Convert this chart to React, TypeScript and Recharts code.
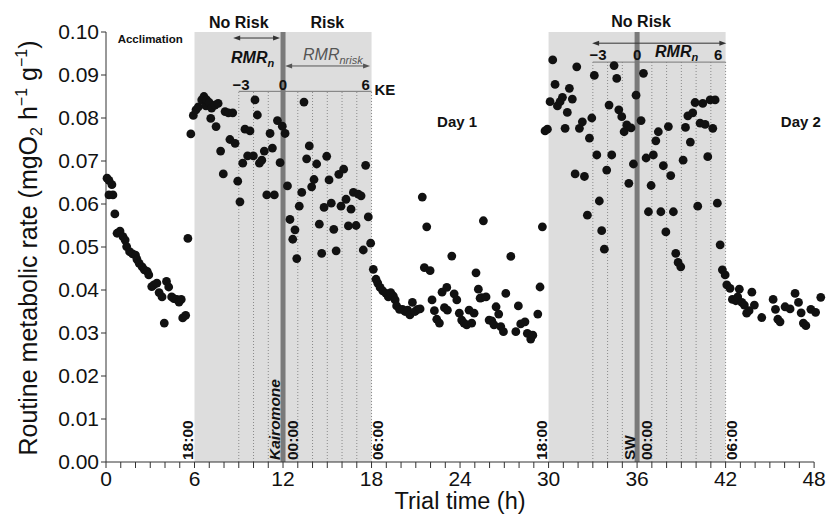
import { ScatterChart, Scatter, XAxis, YAxis, ReferenceArea, ReferenceLine } from "recharts";

// ─── Data (hours since start, RMR in mgO2 h-1 g-1) ─────────────────────────────

const acclimationHours = [
  0.07, 0.2, 0.4, 0.2, 0.47, 0.6, 0.75, 0.95, 1.15, 1.3, 1.4, 1.6, 1.8, 2.0, 2.1, 2.25, 2.45, 2.6,
  2.8, 2.9, 3.1, 3.25, 3.45, 3.6, 3.8, 3.95, 4.1, 4.25, 4.45, 4.6, 4.8, 4.95, 5.1, 5.2, 5.4, 5.55,
  5.75,
];
const acclimationRate = [
  0.066, 0.0655, 0.0645, 0.0621, 0.0621, 0.0577, 0.0532, 0.0537, 0.0524, 0.0516, 0.0501, 0.0489,
  0.0484, 0.0481, 0.0471, 0.0462, 0.0454, 0.0447, 0.0443, 0.0435, 0.0408, 0.0412, 0.0416, 0.0394,
  0.0384, 0.0323, 0.042, 0.0407, 0.0384, 0.038, 0.0378, 0.0372, 0.0378, 0.0335, 0.0341, 0.052,
  0.0763,
];

const kairomoneHours = [
  5.92, 6.1, 6.26, 6.49, 6.64, 6.78, 6.82, 7.0, 7.1, 7.16, 7.39, 7.46, 7.6, 7.77, 7.95, 8.07, 8.3,
  8.4, 8.59, 8.75, 8.93, 9.08, 9.27, 9.42, 9.6, 9.76, 9.99, 10.1, 10.26, 10.4, 10.56, 10.73, 10.9,
  11.12, 11.28, 11.41, 11.62, 11.8, 11.95, 12.14, 12.3, 12.47, 12.66, 12.81, 12.93, 13.1, 13.27,
  13.42, 13.6, 13.78, 13.94, 14.1, 14.28, 14.46, 14.62, 14.78, 14.96, 15.12, 15.27, 15.44, 15.6,
  15.78, 15.93, 16.11, 16.27, 16.43, 16.61, 16.77, 16.95, 17.1, 17.29, 17.44, 17.6, 17.78, 17.94,
];
const kairomoneRate = [
  0.0806, 0.0819, 0.0826, 0.0842, 0.085, 0.0828, 0.0842, 0.0836, 0.0799, 0.0823, 0.083, 0.078,
  0.0834, 0.0723, 0.067, 0.0815, 0.0812, 0.075, 0.0812, 0.0741, 0.0653, 0.0605, 0.0695, 0.0774,
  0.0712, 0.077, 0.0712, 0.0842, 0.0807, 0.0695, 0.0702, 0.0723, 0.0621, 0.0764, 0.073, 0.0621,
  0.0794, 0.0696, 0.0781, 0.0764, 0.0642, 0.0564, 0.0518, 0.054, 0.0473, 0.0595, 0.0627, 0.0837,
  0.0705, 0.0735, 0.064, 0.0657, 0.0693, 0.0553, 0.0485, 0.0592, 0.0711, 0.0656, 0.0602, 0.0541,
  0.0491, 0.0669, 0.0595, 0.0681, 0.0611, 0.0549, 0.0588, 0.0627, 0.055, 0.0623, 0.0619, 0.0493,
  0.069, 0.057, 0.0509,
];

const day1Hours = [
  18.12, 18.3, 18.42, 18.58, 18.76, 18.98, 19.14, 19.3, 19.48, 19.6, 19.7, 19.89, 20.1, 20.27,
  20.45, 20.6, 20.77, 20.95, 21.13, 21.29, 21.44, 21.58, 21.74, 21.97, 22.1, 22.26, 22.42, 22.6,
  22.78, 22.94, 23.1, 23.14, 23.44, 23.6, 23.78, 23.95, 24.11, 24.27, 24.45, 24.61, 24.79, 24.95,
  25.08, 25.24, 25.36, 25.47, 25.58, 25.76, 25.97, 26.15, 26.3, 26.44, 26.62, 26.76, 26.94, 27.1,
  27.44, 27.78, 27.95, 28.11, 28.4, 28.56, 28.79, 28.93, 29.27, 29.42, 29.58, 29.76, 29.92,
];
const day1Rate = [
  0.0448, 0.0425, 0.0416, 0.0406, 0.0398, 0.0392, 0.0384, 0.0394, 0.0386, 0.0377, 0.0363, 0.0355,
  0.0355, 0.035, 0.0353, 0.0342, 0.0371, 0.035, 0.0355, 0.0356, 0.0616, 0.0452, 0.0547, 0.0445,
  0.0377, 0.0352, 0.0332, 0.0323, 0.0395, 0.0359, 0.0406, 0.0353, 0.0479, 0.0391, 0.0377, 0.0346,
  0.033, 0.0323, 0.0319, 0.0353, 0.0323, 0.0346, 0.044, 0.0402, 0.0381, 0.0382, 0.0561, 0.0384,
  0.033, 0.0328, 0.0319, 0.0361, 0.0344, 0.0315, 0.0303, 0.0392, 0.0478, 0.0303, 0.0363, 0.0321,
  0.0326, 0.0299, 0.0286, 0.0295, 0.0344, 0.0407, 0.0547, 0.077, 0.0774,
];

const seawaterHours = [
  30.1, 30.28, 30.44, 30.6, 30.78, 30.94, 31.12, 31.27, 31.41, 31.61, 31.8, 31.91, 32.09, 32.29,
  32.43, 32.63, 32.77, 32.93, 33.1, 33.27, 33.44, 33.6, 33.78, 33.94, 34.1, 34.28, 34.44, 34.62,
  34.76, 34.96, 35.12, 35.3, 35.44, 35.59, 35.75, 35.93, 36.27, 36.43, 36.61, 36.77, 36.95, 37.1,
  37.27, 37.44, 37.61, 37.78, 37.95, 38.12, 38.28, 38.46, 38.62, 38.78, 38.96, 39.12, 39.28, 39.44,
  39.61, 39.77, 39.93, 40.11, 40.27, 40.45, 40.61, 40.79, 40.95, 41.13, 41.29, 41.44, 41.63, 41.78,
  41.97,
];
const seawaterRate = [
  0.0838, 0.0935, 0.0878, 0.0828, 0.0838, 0.0848, 0.0776, 0.0813, 0.0869, 0.0844, 0.067, 0.0919,
  0.0776, 0.0791, 0.0664, 0.0574, 0.0753, 0.08, 0.0899, 0.0714, 0.0607, 0.0538, 0.0495, 0.0679,
  0.083, 0.0714, 0.0922, 0.0892, 0.0819, 0.0803, 0.0768, 0.0784, 0.0648, 0.0777, 0.0693, 0.0853,
  0.0794, 0.0904, 0.0707, 0.0582, 0.0643, 0.0714, 0.0747, 0.0768, 0.0582, 0.0689, 0.0535, 0.078,
  0.0666, 0.0582, 0.0485, 0.0464, 0.0454, 0.0702, 0.0778, 0.0805, 0.0744, 0.0812, 0.0836, 0.0595,
  0.0788, 0.0834, 0.0785, 0.071, 0.0842, 0.0776, 0.0842, 0.0602, 0.0505, 0.0447, 0.0435,
];

const day2Hours = [
  42.08, 42.3, 42.46, 42.69, 42.82, 42.93, 43.1, 43.27, 43.43, 43.59, 43.78, 43.95, 44.45, 45.22,
  45.38, 45.54, 45.69, 46.03, 46.37, 46.71, 46.94, 47.12, 47.27, 47.44, 47.78, 48.1, 48.45,
];
const day2Rate = [
  0.0412, 0.0404, 0.0378, 0.0375, 0.0384, 0.0402, 0.0371, 0.0365, 0.0346, 0.0352, 0.0395, 0.0365,
  0.0336, 0.0378, 0.0355, 0.0332, 0.0326, 0.0361, 0.0356, 0.0392, 0.0371, 0.0347, 0.0323, 0.0317,
  0.0355, 0.0348, 0.0383,
];

const majorHours = [0, 6, 12, 18, 24, 30, 36, 42, 48];
const rateTicks = [0, 0.01, 0.02, 0.03, 0.04, 0.05, 0.06, 0.07, 0.08, 0.09, 0.1];
const kairomoneGuides = [9, 10, 11, 13, 14, 15, 16, 17, 18];
const seawaterGuides = [33, 34, 35, 37, 38, 39, 40, 41, 42];

// ─── Layout ───────────────────────────────────────────────────────────────────

const W = 834;
const H = 515;
const LEFT = 106;
const TOP = 32;
const RIGHT_GAP = 12.5;
const XAXIS_H = 53;
const X_MAX = 48.5;
const Y_MAX = 0.1;
const PLOT_W = W - LEFT - RIGHT_GAP;
const PLOT_H = H - TOP - XAXIS_H;
const sx = (h: number) => LEFT + (h / X_MAX) * PLOT_W;
const sy = (v: number) => TOP + PLOT_H - (v / Y_MAX) * PLOT_H;

const FONT = "'Liberation Sans', Arial, Helvetica, sans-serif";
const INK = "#111";
const KE_TOP = 0.0862;
const SW_TOP = 0.093;

const minorTicks = Array.from({ length: 49 }, (_, i) => i);
const toPoints = (hours: number[], rate: number[]) => hours.map((t, i) => ({ t, rmr: rate[i] }));

const phases = [
  toPoints(acclimationHours, acclimationRate),
  toPoints(kairomoneHours, kairomoneRate),
  toPoints(day1Hours, day1Rate),
  toPoints(seawaterHours, seawaterRate),
  toPoints(day2Hours, day2Rate),
];

const Dot = (props: any) => <circle cx={props.cx} cy={props.cy} r={4.4} fill={INK} />;

function Arrow({ from, to, y, color }: { from: number; to: number; y: number; color: string }) {
  const x1 = sx(from);
  const x2 = sx(to);
  const py = sy(y);
  return (
    <g>
      <line x1={x1 + 5} x2={x2 - 5} y1={py} y2={py} stroke={color} strokeWidth={1} />
      <polygon points={`${x1},${py} ${x1 + 7},${py - 2.5} ${x1 + 7},${py + 2.5}`} fill={color} />
      <polygon points={`${x2},${py} ${x2 - 7},${py - 2.5} ${x2 - 7},${py + 2.5}`} fill={color} />
    </g>
  );
}

function VText({ x, text, italic }: { x: number; text: string; italic?: boolean }) {
  const y = PLOT_H + TOP - 2;
  return (
    <text
      x={x}
      y={y}
      transform={`rotate(-90 ${x} ${y})`}
      fontSize={15.5}
      fontWeight="bold"
      fontStyle={italic ? "italic" : "normal"}
      fill={INK}
    >
      {text}
    </text>
  );
}

function Overlay() {
  return (
    <svg
      width={W}
      height={H}
      style={{ position: "absolute", left: 0, top: 0, pointerEvents: "none" }}
      fontFamily={FONT}
    >
      {/* y axis title */}
      <text
        x={37}
        y={248}
        transform="rotate(-90 37 248)"
        textAnchor="middle"
        fontSize={25}
        fill={INK}
      >
        Routine metabolic rate (mgO
        <tspan fontSize={16} dy={5}>2</tspan>
        <tspan dy={-5}> h</tspan>
        <tspan fontSize={16} dy={-10}>−1</tspan>
        <tspan dy={10}> g</tspan>
        <tspan fontSize={16} dy={-10}>−1</tspan>
        <tspan dy={10}>)</tspan>
      </text>
      <text x={sx(24)} y={509} textAnchor="middle" fontSize={23.5} fill={INK}>
        Trial time (h)
      </text>

      {/* phase headers */}
      <text x={sx(3)} y={43} textAnchor="middle" fontSize={11.5} fontWeight="bold" fill={INK}>
        Acclimation
      </text>
      <text x={sx(9)} y={28} textAnchor="middle" fontSize={16} fontWeight="bold" fill={INK}>
        No Risk
      </text>
      <text x={sx(15)} y={28} textAnchor="middle" fontSize={16} fontWeight="bold" fill={INK}>
        Risk
      </text>
      <text x={sx(36) + 4} y={27} textAnchor="middle" fontSize={16} fontWeight="bold" fill={INK}>
        No Risk
      </text>

      <Arrow from={8.62} to={11.8} y={0.0986} color="#333" />
      <Arrow from={12.14} to={17.9} y={0.0921} color="#555" />
      <Arrow from={32.95} to={42.05} y={0.0974} color="#333" />

      <text x={231} y={63} fontSize={16} fontWeight="bold" fontStyle="italic" fill={INK}>
        RMR<tspan fontSize={11} dy={4}>n</tspan>
      </text>
      <text x={303} y={60} fontSize={16} fontStyle="italic" fill="#555">
        RMR<tspan fontSize={11} dy={4}>nrisk</tspan>
      </text>
      <text x={655} y={57} fontSize={16} fontWeight="bold" fontStyle="italic" fill={INK}>
        RMR<tspan fontSize={11} dy={4}>n</tspan>
      </text>

      {/* KE bracket numbers */}
      <text x={sx(9.15)} y={90} textAnchor="middle" fontSize={15} fontWeight="bold" fill={INK}>−3</text>
      <text x={sx(12)} y={90} textAnchor="middle" fontSize={15} fontWeight="bold" fill={INK}>0</text>
      <text x={sx(17.6)} y={90} textAnchor="middle" fontSize={15} fontWeight="bold" fill={INK}>6</text>
      <text x={sx(18.2)} y={95} fontSize={15} fontWeight="bold" fill={INK}>KE</text>

      {/* SW bracket numbers */}
      <text x={sx(33.35)} y={60} textAnchor="middle" fontSize={15} fontWeight="bold" fill={INK}>−3</text>
      <text x={sx(36)} y={60} textAnchor="middle" fontSize={15} fontWeight="bold" fill={INK}>0</text>
      <text x={sx(41.5)} y={60} textAnchor="middle" fontSize={15} fontWeight="bold" fill={INK}>6</text>

      <text x={sx(23.8)} y={127} textAnchor="middle" fontSize={15} fontWeight="bold" fill={INK}>Day 1</text>
      <text x={sx(47.1)} y={127} textAnchor="middle" fontSize={15} fontWeight="bold" fill={INK}>Day 2</text>

      {/* clock times along the bottom */}
      <VText x={sx(6) - 2} text="18:00" />
      <VText x={sx(12) - 3} text="Kairomone" italic />
      <VText x={sx(12) + 14.5} text="00:00" />
      <VText x={sx(18) + 11.5} text="06:00" />
      <VText x={sx(30) - 2} text="18:00" />
      <VText x={sx(36) - 2} text="SW" />
      <VText x={sx(36) + 14.5} text="00:00" />
      <VText x={sx(42) + 11.5} text="06:00" />
    </svg>
  );
}

export default function App() {
  const tickStyle = { fontSize: 21, fill: INK, fontFamily: FONT };
  return (
    <div style={{ position: "absolute", left: 0, top: 0, width: W, height: H, background: "#fff" }}>
      <ScatterChart width={W} height={H} margin={{ top: TOP, right: RIGHT_GAP, bottom: 0, left: 0 }}>
        <XAxis
          dataKey="t"
          type="number"
          domain={[0, X_MAX]}
          ticks={minorTicks}
          interval={0}
          tickFormatter={(v: number) => (majorHours.includes(v) ? String(v) : "")}
          axisLine={false}
          tickLine={{ stroke: "#333" }}
          tickSize={6}
          tickMargin={3}
          tick={tickStyle}
          height={XAXIS_H}
        />
        <YAxis
          dataKey="rmr"
          type="number"
          domain={[0, Y_MAX]}
          ticks={rateTicks}
          interval={0}
          tickFormatter={(v: number) => v.toFixed(2)}
          axisLine={{ stroke: "#333" }}
          tickLine={{ stroke: "#333" }}
          tickSize={5}
          tickMargin={2}
          tick={tickStyle}
          width={LEFT}
        />
        <ReferenceArea x1={6} x2={18} y1={0} y2={Y_MAX} fill="#dddddd" fillOpacity={1} stroke="none" />
        <ReferenceArea x1={30} x2={42} y1={0} y2={Y_MAX} fill="#dddddd" fillOpacity={1} stroke="none" />
        {kairomoneGuides.map((h) => (
          <ReferenceLine
            key={`ke-${h}`}
            segment={[{ x: h, y: 0 }, { x: h, y: KE_TOP }]}
            stroke="#8a8a8a"
            strokeDasharray="1 2"
          />
        ))}
        {seawaterGuides.map((h) => (
          <ReferenceLine
            key={`sw-${h}`}
            segment={[{ x: h, y: 0 }, { x: h, y: SW_TOP }]}
            stroke="#8a8a8a"
            strokeDasharray="1 2"
          />
        ))}
        <ReferenceLine segment={[{ x: 9, y: KE_TOP }, { x: 18, y: KE_TOP }]} stroke="#777" />
        <ReferenceLine segment={[{ x: 33, y: SW_TOP }, { x: 42, y: SW_TOP }]} stroke="#777" />
        <ReferenceLine x={12} stroke="#7a7a7a" strokeWidth={5} />
        <ReferenceLine x={36} stroke="#7a7a7a" strokeWidth={5} />
        <ReferenceLine segment={[{ x: 0, y: 0 }, { x: 48, y: 0 }]} stroke="#333" ifOverflow="visible" />
        {phases.map((pts, i) => (
          <Scatter key={i} data={pts} shape={Dot} isAnimationActive={false} />
        ))}
      </ScatterChart>
      <Overlay />
    </div>
  );
}
